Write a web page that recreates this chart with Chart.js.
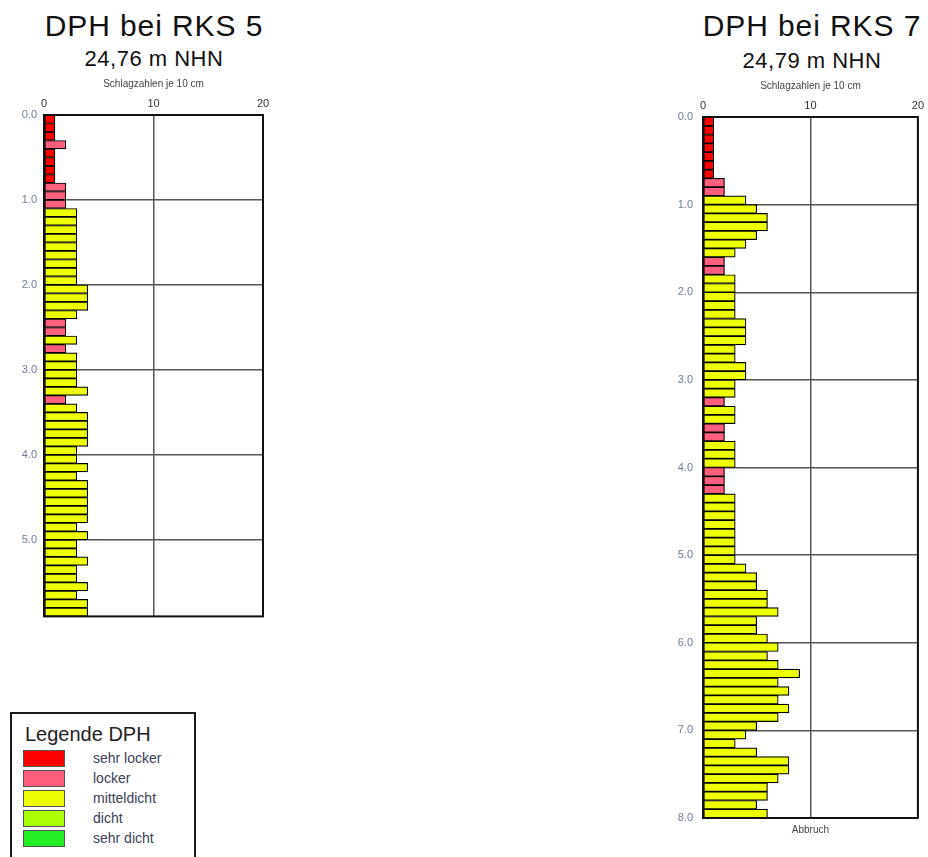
<!DOCTYPE html>
<html>
<head>
<meta charset="utf-8">
<script src="https://cdn.jsdelivr.net/npm/chart.js@4.4.1/dist/chart.umd.min.js"></script>
<style>
  body { margin: 0; background: #fff; font-family: "Liberation Sans", Arial, sans-serif; }
  #page { position: relative; width: 928px; height: 857px; overflow: hidden; }
  canvas { position: absolute; top: 0; }
  .head { position: absolute; width: 300px; text-align: center; color: #111; white-space: nowrap; }
  .t1 { top: 11px; font-size: 30px; line-height: 30px; letter-spacing: 0.9px; }
  .t2 { font-size: 22px; line-height: 22px; letter-spacing: 0.5px; }
  #legend { position: absolute; left: 10px; top: 712px; width: 182px; height: 200px; border: 2px solid #1a1a1a; }
  #legend .lt { position: absolute; left: 13px; top: 10px; font-size: 20px; line-height: 20px; color: #222; }
  #legend .row { position: absolute; left: 11px; height: 16px; }
  #legend .sw { position: absolute; left: 0; top: 0; width: 40px; height: 15px; border: 1px solid #555; }
  #legend .lb { position: absolute; left: 70px; top: 0; font-size: 14px; line-height: 16px; color: #3a3f55; white-space: nowrap; }
</style>
</head>
<body>
<div id="page">
  <div class="head t1" style="left:4px">DPH bei RKS 5</div>
  <div class="head t2" style="left:4px; top:48px">24,76 m NHN</div>
  <div class="head t1" style="left:662px">DPH bei RKS 7</div>
  <div class="head t2" style="left:662px; top:50px">24,79 m NHN</div>
  <canvas id="rks5" width="290" height="630" style="left:0"></canvas>
  <canvas id="rks7" width="268" height="857" style="left:660px"></canvas>
  <div id="legend"><div class="lt">Legende DPH</div></div>
</div>
<script>
// Schlagzahlen je 10 cm, von 0.0 m abwärts
const depthStep = 0.1;
const blowsRks5 = [
  1, 1, 1, 2, 1, 1, 1, 1, 2, 2,
  2, 3, 3, 3, 3, 3, 3, 3, 3, 3,
  4, 4, 4, 3, 2, 2, 3, 2, 3, 3,
  3, 3, 4, 2, 3, 4, 4, 4, 4, 3,
  3, 4, 3, 4, 4, 4, 4, 4, 3, 4,
  3, 3, 4, 3, 3, 4, 3, 4, 4
];
const blowsRks7 = [
  1, 1, 1, 1, 1, 1, 1, 2, 2, 4,
  5, 6, 6, 5, 4, 3, 2, 2, 3, 3,
  3, 3, 3, 4, 4, 4, 3, 3, 4, 4,
  3, 3, 2, 3, 3, 2, 2, 3, 3, 3,
  2, 2, 2, 3, 3, 3, 3, 3, 3, 3,
  3, 4, 5, 5, 6, 6, 7, 5, 5, 6,
  7, 6, 7, 9, 7, 8, 7, 8, 7, 5,
  4, 3, 5, 8, 8, 7, 6, 6, 5, 6
];
const depthMaxRks5 = 5.9;
const depthMaxRks7 = 8.0;
const blowAxisMax = 20;

const legendNames = ['sehr locker', 'locker', 'mitteldicht', 'dicht', 'sehr dicht'];
const legendColors = ['#ff0000', '#ff5f7c', '#eeff00', '#aaff00', '#22ee22'];

function classColor(n) {
  if (n <= 1) return legendColors[0];
  if (n <= 2) return legendColors[1];
  return legendColors[2];
}

const frame = {
  id: 'frame',
  afterDatasetsDraw(chart) {
    const a = chart.chartArea, ctx = chart.ctx;
    ctx.save();
    ctx.strokeStyle = '#111';
    ctx.lineWidth = 2;
    ctx.strokeRect(a.left, a.top, a.right - a.left, a.bottom - a.top);
    ctx.restore();
  }
};

function makeChart(id, blows, depthMax, opts) {
  const points = blows.map((v, i) => ({ x: v, y: (i + 0.5) * depthStep }));
  const scales = {
    x: {
      type: 'linear', position: 'top', min: 0, max: blowAxisMax,
      afterFit(s) { s.height = 41; },
      ticks: { stepSize: 10, padding: 4, color: '#333', font: { size: 11 } },
      grid: { color: '#555', lineWidth: 1.5, drawTicks: false },
      border: { display: false },
      title: { display: true, text: 'Schlagzahlen je 10 cm', color: '#444', font: { size: 10 }, padding: { top: 4, bottom: 4 } }
    },
    y: {
      type: 'linear', reverse: true, min: 0, max: depthMax, offset: false,
      afterFit(s) { s.width = opts.yWidth; },
      ticks: { stepSize: 1, includeBounds: false, padding: opts.yPad, color: '#6d7c9c', font: { size: 11 },
               callback: v => Number(v).toFixed(1) },
      grid: { color: '#555', lineWidth: 1.5, drawTicks: false, offset: false },
      border: { display: false }
    }
  };
  if (opts.footer) {
    scales.x2 = {
      type: 'linear', axis: 'x', position: 'bottom',
      afterFit(s) { s.height = 22; },
      ticks: { display: false },
      grid: { display: false, drawTicks: false },
      border: { display: false },
      title: { display: true, text: opts.footer, color: '#444', font: { size: 10 }, padding: { top: 4, bottom: 4 } }
    };
  }
  return new Chart(document.getElementById(id), {
    type: 'bar',
    data: {
      datasets: [{
        data: points,
        backgroundColor: blows.map(classColor),
        borderColor: '#000',
        borderWidth: 1.2,
        borderSkipped: false,
        barPercentage: 1,
        categoryPercentage: 1
      }]
    },
    options: {
      indexAxis: 'y',
      responsive: false,
      animation: false,
      layout: { padding: opts.padding },
      scales: scales,
      plugins: { legend: { display: false }, tooltip: { enabled: false } }
    },
    plugins: [frame]
  });
}

makeChart('rks5', blowsRks5, depthMaxRks5, {
  yWidth: 44, yPad: 7, padding: { top: 74, left: 0, right: 27, bottom: 6 }
});
makeChart('rks7', blowsRks7, depthMaxRks7, {
  yWidth: 43, yPad: 10, padding: { top: 76, left: 0, right: 6, bottom: 17 }, footer: 'Abbruch'
});

const legend = document.getElementById('legend');
legendNames.forEach((name, i) => {
  const row = document.createElement('div');
  row.className = 'row';
  row.style.top = (36 + i * 20) + 'px';
  row.innerHTML = '<div class="sw" style="background:' + legendColors[i] + '"></div><div class="lb">' + name + '</div>';
  legend.appendChild(row);
});
</script>
</body>
</html>
